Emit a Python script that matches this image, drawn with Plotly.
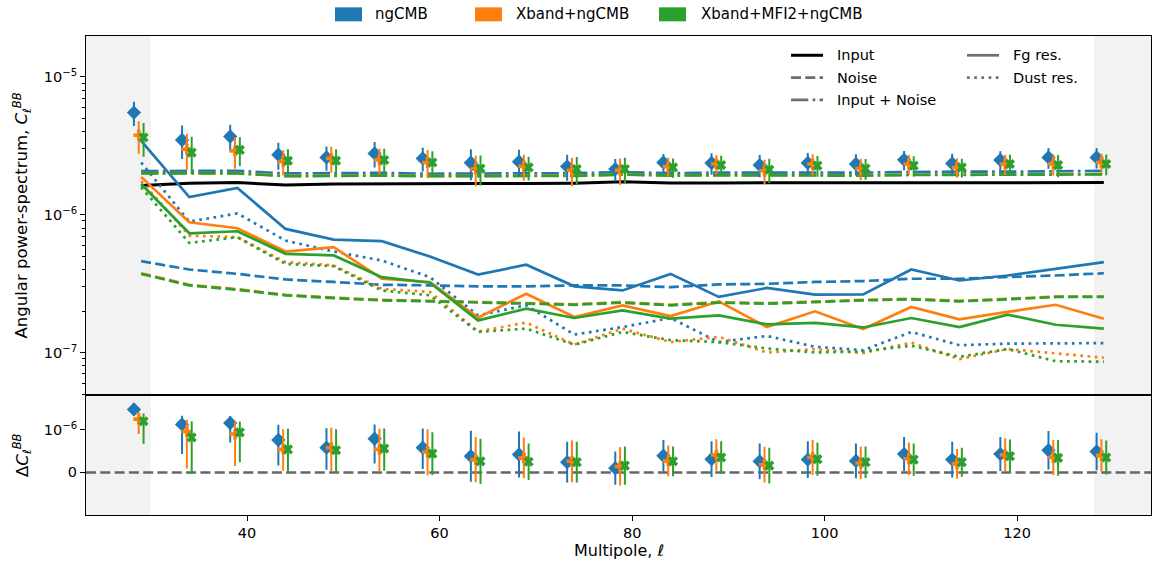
import numpy as np
import plotly.graph_objects as go

# ---------------- data ----------------
ell = [29, 34, 39, 44, 49, 54, 59, 64, 69, 74, 79, 84, 89, 94, 99, 104, 109, 114, 119, 124, 129]
configs = ["ngCMB", "Xband+ngCMB", "Xband+MFI2+ngCMB"]

cl_input = [1.63, 1.69, 1.71, 1.64, 1.67, 1.68, 1.67, 1.68, 1.68, 1.69, 1.73, 1.70, 1.70, 1.70, 1.70, 1.69, 1.70, 1.71, 1.70, 1.70, 1.71]

noise_ng = [0.460, 0.400, 0.372, 0.339, 0.325, 0.310, 0.307, 0.302, 0.302, 0.307, 0.307, 0.298, 0.312, 0.315, 0.325, 0.330, 0.343, 0.343, 0.353, 0.362, 0.376]
noise_xb = [0.376, 0.310, 0.288, 0.262, 0.250, 0.241, 0.237, 0.232, 0.228, 0.224, 0.232, 0.222, 0.232, 0.228, 0.234, 0.241, 0.245, 0.237, 0.245, 0.255, 0.255]
noise_xbm = [0.372, 0.307, 0.285, 0.260, 0.248, 0.239, 0.235, 0.230, 0.226, 0.222, 0.230, 0.220, 0.230, 0.226, 0.232, 0.239, 0.243, 0.235, 0.243, 0.253, 0.253]

inoise_ng = [2.07, 2.08, 2.08, 1.99, 2.00, 2.01, 1.98, 1.98, 1.99, 2.00, 2.03, 2.00, 2.02, 2.01, 2.02, 2.02, 2.04, 2.05, 2.05, 2.06, 2.08]
inoise_xb = [2.00, 2.00, 2.00, 1.91, 1.93, 1.93, 1.91, 1.92, 1.92, 1.92, 1.96, 1.93, 1.94, 1.93, 1.94, 1.93, 1.95, 1.95, 1.95, 1.96, 1.97]
inoise_xbm = [1.99, 1.99, 1.99, 1.90, 1.92, 1.92, 1.90, 1.91, 1.91, 1.91, 1.95, 1.92, 1.93, 1.92, 1.93, 1.92, 1.94, 1.94, 1.94, 1.95, 1.96]

fg_ng = [3.43, 1.34, 1.56, 0.788, 0.66, 0.642, 0.497, 0.368, 0.433, 0.302, 0.282, 0.372, 0.253, 0.294, 0.263, 0.264, 0.400, 0.333, 0.362, 0.405, 0.453]
fg_xb = [1.88, 0.88, 0.797, 0.54, 0.581, 0.343, 0.325, 0.179, 0.267, 0.181, 0.220, 0.184, 0.235, 0.153, 0.199, 0.148, 0.214, 0.174, 0.197, 0.222, 0.176]
fg_xbm = [1.67, 0.733, 0.758, 0.520, 0.506, 0.352, 0.321, 0.171, 0.208, 0.178, 0.202, 0.176, 0.186, 0.160, 0.164, 0.152, 0.178, 0.153, 0.188, 0.159, 0.149]

dust_ng = [2.39, 0.89, 1.02, 0.649, 0.54, 0.465, 0.352, 0.186, 0.220, 0.135, 0.153, 0.178, 0.119, 0.132, 0.110, 0.104, 0.141, 0.113, 0.116, 0.116, 0.117]
dust_xb = [1.75, 0.705, 0.686, 0.453, 0.428, 0.290, 0.275, 0.142, 0.165, 0.114, 0.149, 0.119, 0.130, 0.100, 0.106, 0.099, 0.118, 0.0896, 0.106, 0.099, 0.0917]
dust_xbm = [1.58, 0.624, 0.686, 0.439, 0.423, 0.282, 0.260, 0.141, 0.149, 0.114, 0.141, 0.123, 0.119, 0.107, 0.100, 0.102, 0.112, 0.093, 0.106, 0.0865, 0.0858]

pts_ng = [5.50, 3.48, 3.69, 2.72, 2.60, 2.78, 2.56, 2.38, 2.42, 2.24, 2.14, 2.39, 2.37, 2.29, 2.37, 2.33, 2.50, 2.35, 2.49, 2.60, 2.60]
pts_xb = [3.77, 2.99, 2.90, 2.43, 2.56, 2.49, 2.39, 2.14, 2.24, 2.10, 2.10, 2.23, 2.33, 2.08, 2.33, 2.16, 2.33, 2.20, 2.33, 2.33, 2.39]
pts_xbm = [3.63, 2.82, 2.95, 2.46, 2.46, 2.49, 2.39, 2.16, 2.20, 2.14, 2.14, 2.20, 2.29, 2.12, 2.27, 2.16, 2.27, 2.20, 2.33, 2.29, 2.33]

err_ng = [1.10, 0.95, 0.80, 0.60, 0.52, 0.58, 0.50, 0.60, 0.54, 0.48, 0.39, 0.37, 0.42, 0.42, 0.43, 0.41, 0.40, 0.42, 0.40, 0.45, 0.44]
err_xb = [1.00, 0.87, 0.75, 0.50, 0.55, 0.52, 0.55, 0.53, 0.48, 0.49, 0.45, 0.36, 0.37, 0.42, 0.41, 0.38, 0.38, 0.35, 0.39, 0.41, 0.38]
err_xbm = [1.00, 0.85, 0.70, 0.52, 0.52, 0.52, 0.50, 0.53, 0.43, 0.48, 0.45, 0.35, 0.38, 0.42, 0.39, 0.37, 0.38, 0.34, 0.39, 0.42, 0.40]

dcl_ng = [3.40, 1.38, 1.50, 0.76, 0.58, 0.79, 0.58, 0.38, 0.42, 0.24, 0.10, 0.39, 0.31, 0.26, 0.30, 0.27, 0.43, 0.30, 0.43, 0.52, 0.49]
dcl_xb = [1.90, 0.96, 0.90, 0.54, 0.58, 0.54, 0.48, 0.30, 0.34, 0.26, 0.14, 0.27, 0.41, 0.18, 0.35, 0.22, 0.32, 0.20, 0.41, 0.35, 0.40]
dcl_xbm = [1.67, 0.82, 0.94, 0.54, 0.52, 0.56, 0.44, 0.26, 0.25, 0.24, 0.16, 0.26, 0.35, 0.16, 0.31, 0.24, 0.30, 0.24, 0.38, 0.34, 0.35]

UNIT = 1e-6  # all values above are in units of 1e-6
point_offsets = [-0.75, -0.25, 0.25]
colors = ["#1f77b4", "#ff7f0e", "#2ca02c"]
symbols = ["diamond", "cross", "x"]
msizes = [11, 9, 9]

noise = [noise_ng, noise_xb, noise_xbm]
inoise = [inoise_ng, inoise_xb, inoise_xbm]
fg = [fg_ng, fg_xb, fg_xbm]
dust = [dust_ng, dust_xb, dust_xbm]
pts = [pts_ng, pts_xb, pts_xbm]
errs = [err_ng, err_xb, err_xbm]
dcl = [dcl_ng, dcl_xb, dcl_xbm]

# ---------------- geometry ----------------
W, H = 1152, 565
L, R, T, B = 86, 1151, 35.7, 515.3
SEP = 395.0
XR = [23.27, 133.9]
MASK_LO, MASK_HI = 30, 128
LINTHRESH = 1e-6
LINSCALE = 1.0 / (1.0 - 0.1)


def symlog(v):
    v = np.asarray(v, dtype=float)
    a = np.abs(v)
    out = np.where(a <= LINTHRESH, v / LINTHRESH * LINSCALE,
                   np.sign(v) * (LINSCALE + np.log10(np.maximum(a, 1e-30) / LINTHRESH)))
    return out


def px2x(px):
    return (px - L) / (R - L)


def px2y(py):
    return (B - py) / (B - T)


lw = 2.7
DASH = f"{3.7*lw:.1f}px,{1.6*lw:.1f}px"
DASHDOT = f"{6.4*lw:.1f}px,{1.6*lw:.1f}px,{1.0*lw:.1f}px,{1.6*lw:.1f}px"
DOT = f"{1.0*lw:.1f}px,{1.65*lw:.1f}px"

fig = go.Figure()

# input
fig.add_trace(go.Scatter(x=ell, y=[v * UNIT for v in cl_input], mode="lines",
                         line=dict(color="black", width=3), xaxis="x", yaxis="y",
                         showlegend=False))

for i in range(3):
    c = colors[i]
    fig.add_trace(go.Scatter(x=ell, y=[v * UNIT for v in noise[i]], mode="lines",
                             line=dict(color=c, width=lw, dash=DASH), showlegend=False))
    fig.add_trace(go.Scatter(x=ell, y=[v * UNIT for v in inoise[i]], mode="lines",
                             line=dict(color=c, width=lw, dash=DASHDOT), showlegend=False))
    fig.add_trace(go.Scatter(x=ell, y=[v * UNIT for v in fg[i]], mode="lines",
                             line=dict(color=c, width=lw), showlegend=False))
    fig.add_trace(go.Scatter(x=ell, y=[v * UNIT for v in dust[i]], mode="lines",
                             line=dict(color=c, width=lw, dash=DOT), showlegend=False))

for i in range(3):
    c = colors[i]
    xs = [e + point_offsets[i] for e in ell]
    fig.add_trace(go.Scatter(
        x=xs, y=[v * UNIT for v in pts[i]], mode="markers",
        marker=dict(symbol=symbols[i], size=msizes[i], color=c, line=dict(width=0)),
        error_y=dict(type="data", array=[e * UNIT for e in errs[i]], color=c,
                     thickness=2, width=0),
        showlegend=False))
    d = np.array(dcl[i]) * UNIT
    e = np.array(errs[i]) * UNIT
    yc = symlog(d)
    up = symlog(d + e) - yc
    dn = yc - symlog(d - e)
    fig.add_trace(go.Scatter(
        x=xs, y=yc, mode="markers", xaxis="x2", yaxis="y2",
        marker=dict(symbol=symbols[i], size=msizes[i], color=c, line=dict(width=0)),
        error_y=dict(type="data", array=up, arrayminus=dn, symmetric=False,
                     color=c, thickness=2, width=0),
        showlegend=False))

# ---------------- shapes ----------------
shapes = []
for yref in ["y domain", "y2 domain"]:
    xref = "x" if yref == "y domain" else "x2"
    shapes.append(dict(type="rect", xref=xref, yref=yref, x0=XR[0], x1=MASK_LO, y0=0, y1=1,
                       fillcolor="#f2f2f2", line=dict(width=0), layer="below"))
    shapes.append(dict(type="rect", xref=xref, yref=yref, x0=MASK_HI, x1=XR[1], y0=0, y1=1,
                       fillcolor="#f2f2f2", line=dict(width=0), layer="below"))
shapes.append(dict(type="line", xref="x2 domain", yref="y2", x0=0, x1=1, y0=0, y1=0,
                   line=dict(color="#666666", width=2.5, dash=DASH), layer="below"))

annotations = []
# top legend (colour patches)
top_leg = [(335, 373, configs[0], colors[0]), (475, 514, configs[1], colors[1]),
           (659, 699, configs[2], colors[2])]
for x0, tx, label, c in top_leg:
    shapes.append(dict(type="rect", xref="paper", yref="paper",
                       x0=px2x(x0), x1=px2x(x0 + 27), y0=px2y(21), y1=px2y(7),
                       fillcolor=c, line=dict(width=0)))
    annotations.append(dict(xref="paper", yref="paper", x=px2x(tx), y=px2y(14),
                            text=label, showarrow=False, xanchor="left", yanchor="middle",
                            font=dict(size=15, color="black")))

# inner legend (line styles)
inner = [(791, 55, "Input", "black", "solid"),
         (791, 77.3, "Noise", "#6e6e6e", DASH),
         (791, 99.7, "Input + Noise", "#6e6e6e", DASHDOT),
         (967, 55, "Fg res.", "#6e6e6e", "solid"),
         (967, 77.3, "Dust res.", "#6e6e6e", DOT)]
for x0, yy, label, c, ds in inner:
    shapes.append(dict(type="line", xref="paper", yref="paper",
                       x0=px2x(x0), x1=px2x(x0 + 32), y0=px2y(yy), y1=px2y(yy),
                       line=dict(color=c, width=3 if c == "black" else lw, dash=ds)))
    annotations.append(dict(xref="paper", yref="paper", x=px2x(x0 + 44), y=px2y(yy),
                            text=label, showarrow=False, xanchor="left", yanchor="middle",
                            font=dict(size=14.5, color="black")))

# axis titles
annotations.append(dict(xref="paper", yref="paper", x=px2x(22), y=px2y((T + SEP) / 2),
                        text="Angular power-spectrum, <i>C</i><sub>ℓ</sub><sup><i>BB</i></sup>",
                        textangle=-90, showarrow=False, xanchor="center", yanchor="middle",
                        font=dict(size=16.5, color="black")))
annotations.append(dict(xref="paper", yref="paper", x=px2x(22), y=px2y((SEP + B) / 2),
                        text="Δ<i>C</i><sub>ℓ</sub><sup><i>BB</i></sup>",
                        textangle=-90, showarrow=False, xanchor="center", yanchor="middle",
                        font=dict(size=16.5, color="black")))
annotations.append(dict(xref="paper", yref="paper", x=0.5, y=px2y(551),
                        text="Multipole, <i>ℓ</i>", showarrow=False,
                        xanchor="center", yanchor="middle", font=dict(size=16, color="black")))

minor_vals = [k * 10.0 ** n for n in range(-8, -4) for k in range(2, 10)]
bot_frac = (B - SEP) / (B - T)

fig.update_layout(
    width=W, height=H,
    margin=dict(l=L, r=W - R, t=T, b=H - B, pad=0),
    paper_bgcolor="white", plot_bgcolor="white",
    font=dict(family="DejaVu Sans", color="black", size=14.5),
    showlegend=False,
    shapes=shapes, annotations=annotations,
    xaxis=dict(domain=[0, 1], range=XR, anchor="y", showticklabels=False, ticks="",
               showgrid=False, zeroline=False, showline=True, mirror=True,
               linecolor="black", linewidth=1, matches="x2"),
    yaxis=dict(domain=[bot_frac, 1], type="log", range=[-7.307, -4.704], anchor="x",
               tickvals=[1e-7, 1e-6, 1e-5],
               ticktext=["10<sup>−7</sup>", "10<sup>−6</sup>", "10<sup>−5</sup>"],
               ticks="outside", ticklen=5, tickcolor="black", tickwidth=1,
               minor=dict(tickvals=minor_vals, ticks="outside", ticklen=3,
                          tickcolor="black", tickwidth=0.8, showgrid=False),
               showgrid=False, zeroline=False, showline=True, mirror=True,
               linecolor="black", linewidth=1, tickfont=dict(size=14.5)),
    xaxis2=dict(domain=[0, 1], range=XR, anchor="y2", tickvals=[40, 60, 80, 100, 120],
                ticks="outside", ticklen=5, tickcolor="black", tickwidth=1,
                showgrid=False, zeroline=False, showline=True, mirror=True,
                linecolor="black", linewidth=1, tickfont=dict(size=14.5)),
    yaxis2=dict(domain=[0, bot_frac], range=[-1.111, 2.022], anchor="x2",
                tickvals=[0, LINSCALE], ticktext=["0", "10<sup>−6</sup>"],
                ticks="outside", ticklen=5, tickcolor="black", tickwidth=1,
                showgrid=False, zeroline=False, showline=True, mirror=True,
                linecolor="black", linewidth=1, tickfont=dict(size=14.5)),
)

fig.write_html("out.html", config={"displayModeBar": False},
               post_script="document.body.style.margin='0px';document.body.style.overflow='hidden';")
